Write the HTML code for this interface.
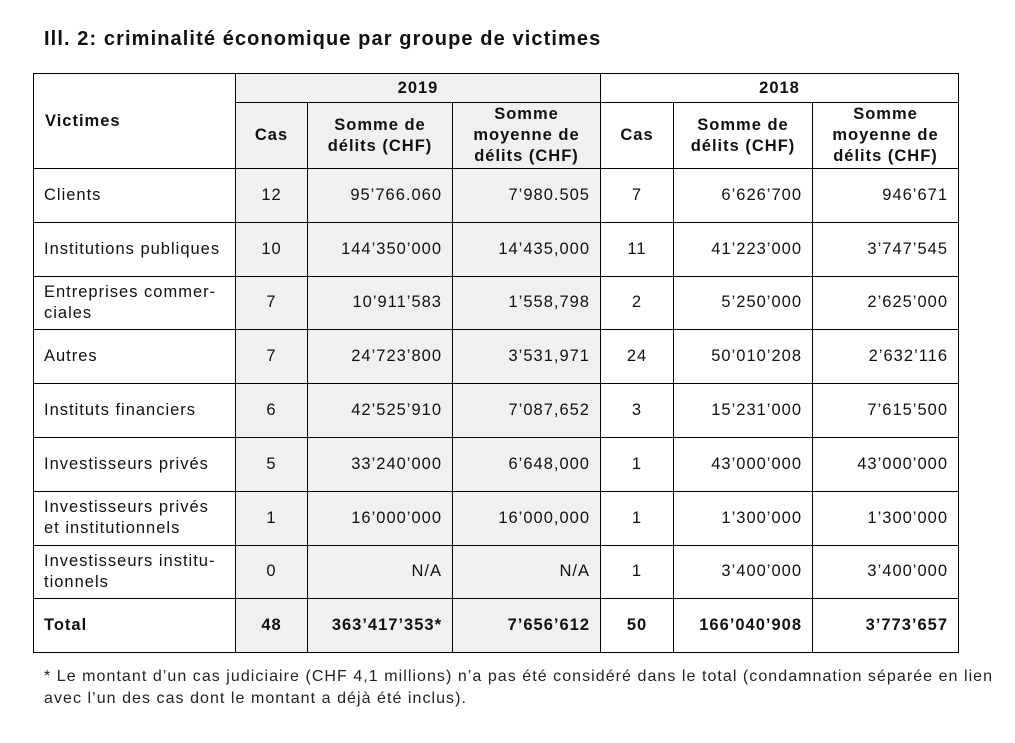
<!DOCTYPE html>
<html><head><meta charset="utf-8"><style>
body{margin:0;background:#fff;width:1015px;height:743px;overflow:hidden;font-family:"Liberation Sans",Arial,sans-serif;color:#111}
h1{position:absolute;left:44px;top:28px;margin:0;font-size:20px;font-weight:bold;letter-spacing:1.1px}
table{position:absolute;left:33px;top:73px;border-collapse:collapse;table-layout:fixed;font-size:16.5px;letter-spacing:1px}
td{border:1px solid #000;padding:0 10px;vertical-align:middle;line-height:21px;white-space:nowrap}
.g{background:#f0f0f0}
.c{text-align:center}.r{text-align:right}
.b{font-weight:bold}
tr.d td{height:52.8px}
.note{position:absolute;left:44px;top:666px;font-size:16px;line-height:22px;width:980px;color:#222;letter-spacing:1.05px;white-space:nowrap}
</style></head><body>
<h1>Ill. 2: criminalité économique par groupe de victimes</h1>
<table>
<colgroup><col style="width:202px"><col style="width:72px"><col style="width:145px"><col style="width:148px"><col style="width:73px"><col style="width:139px"><col style="width:146px"></colgroup>
<tr style="height:29px"><td rowspan="2" class="b" style="padding-left:11px;vertical-align:top;padding-top:37px">Victimes</td><td colspan="3" class="g c b">2019</td><td colspan="3" class="c b">2018</td></tr>
<tr style="height:66px"><td class="g c b">Cas</td><td class="g c b">Somme de<br>délits (CHF)</td><td class="g c b">Somme<br>moyenne de<br>délits (CHF)</td><td class="c b">Cas</td><td class="c b">Somme de<br>délits (CHF)</td><td class="c b">Somme<br>moyenne de<br>délits (CHF)</td></tr>
<tr class="d"><td>Clients</td><td class="g c">12</td><td class="g r">95’766.060</td><td class="g r">7’980.505</td><td class="c">7</td><td class="r">6’626’700</td><td class="r">946’671</td></tr>
<tr class="d"><td>Institutions publiques</td><td class="g c">10</td><td class="g r">144’350’000</td><td class="g r">14’435,000</td><td class="c">11</td><td class="r">41’223’000</td><td class="r">3’747’545</td></tr>
<tr class="d"><td>Entreprises commer-<br>ciales</td><td class="g c">7</td><td class="g r">10’911’583</td><td class="g r">1’558,798</td><td class="c">2</td><td class="r">5’250’000</td><td class="r">2’625’000</td></tr>
<tr class="d"><td>Autres</td><td class="g c">7</td><td class="g r">24’723’800</td><td class="g r">3’531,971</td><td class="c">24</td><td class="r">50’010’208</td><td class="r">2’632’116</td></tr>
<tr class="d"><td>Instituts financiers</td><td class="g c">6</td><td class="g r">42’525’910</td><td class="g r">7’087,652</td><td class="c">3</td><td class="r">15’231’000</td><td class="r">7’615’500</td></tr>
<tr class="d"><td>Investisseurs privés</td><td class="g c">5</td><td class="g r">33’240’000</td><td class="g r">6’648,000</td><td class="c">1</td><td class="r">43’000’000</td><td class="r">43’000’000</td></tr>
<tr class="d"><td>Investisseurs privés<br>et institutionnels</td><td class="g c">1</td><td class="g r">16’000’000</td><td class="g r">16’000,000</td><td class="c">1</td><td class="r">1’300’000</td><td class="r">1’300’000</td></tr>
<tr class="d"><td>Investisseurs institu-<br>tionnels</td><td class="g c">0</td><td class="g r">N/A</td><td class="g r">N/A</td><td class="c">1</td><td class="r">3’400’000</td><td class="r">3’400’000</td></tr>
<tr class="d b"><td>Total</td><td class="g c">48</td><td class="g r">363’417’353*</td><td class="g r">7’656’612</td><td class="c">50</td><td class="r">166’040’908</td><td class="r">3’773’657</td></tr>
</table>
<div class="note">* Le montant d’un cas judiciaire (CHF 4,1 millions) n’a pas été considéré dans le total (condamnation séparée en lien<br>avec l’un des cas dont le montant a déjà été inclus).</div>
</body></html>
